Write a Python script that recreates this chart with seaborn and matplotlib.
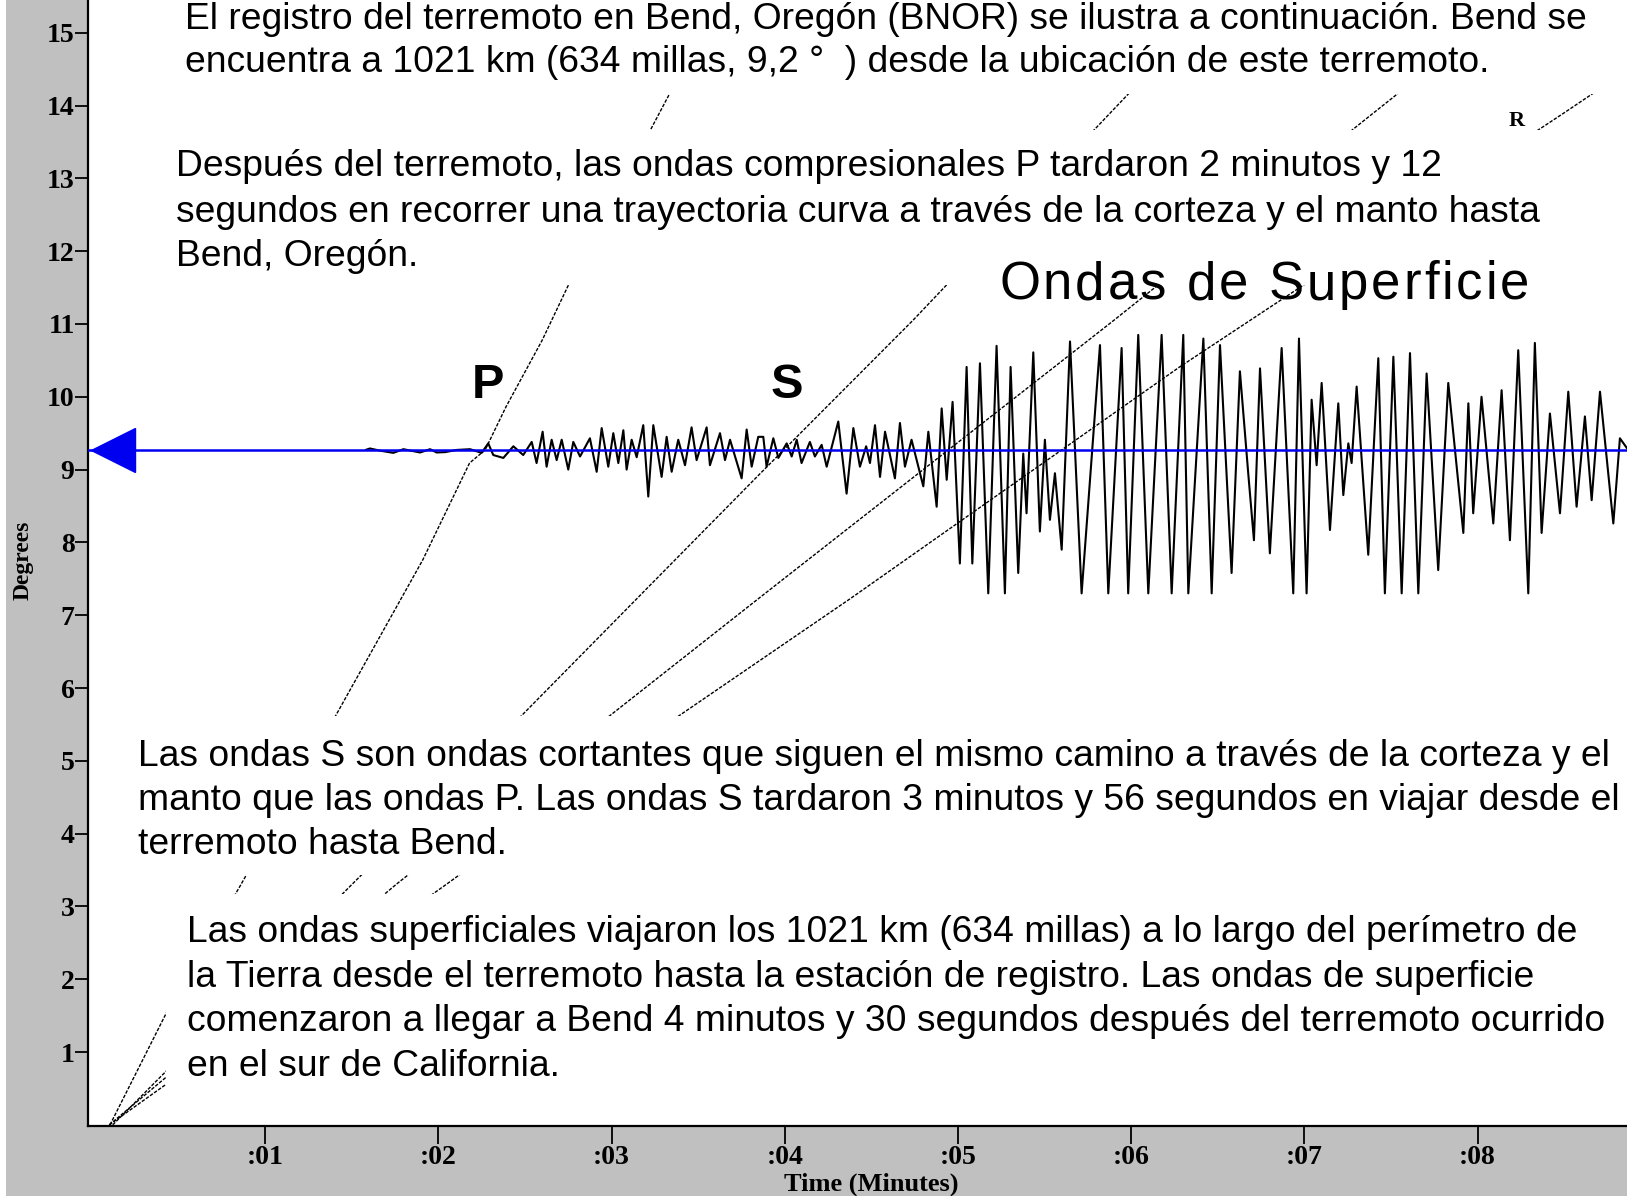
import matplotlib
matplotlib.use("Agg")
import matplotlib.pyplot as plt
import seaborn as sns
from matplotlib.patches import Rectangle
from matplotlib.font_manager import FontProperties, findfont
from matplotlib.ft2font import FT2Font

W, H, DPI = 1627, 1196, 100

# ------------------------------------------------------------
# datos
# ------------------------------------------------------------
station_deg = 9.27          # distancia de Bend (BNOR) en grados
station_mark_t = 0.121      # posicion del triangulo azul

# sismograma: tiempos (min) y amplitud relativa a la linea azul (grados)
trace_time = [
    1.580, 1.605, 1.663, 1.740, 1.798, 1.894, 1.952, 1.990, 2.039, 2.106, 2.183, 2.250,
    2.288, 2.317, 2.375, 2.433, 2.490, 2.539, 2.567, 2.602, 2.625, 2.654, 2.683, 2.712,
    2.750, 2.779, 2.818, 2.875, 2.914, 2.943, 2.981, 3.010, 3.039, 3.068, 3.087, 3.116,
    3.145, 3.183, 3.212, 3.241, 3.289, 3.318, 3.347, 3.385, 3.424, 3.462, 3.491, 3.549,
    3.568, 3.626, 3.655, 3.684, 3.751, 3.780, 3.809, 3.847,
    3.876, 3.895, 3.934, 3.963, 4.011, 4.040, 4.069, 4.097, 4.145, 4.174, 4.213, 4.242,
    4.309, 4.357, 4.396, 4.434, 4.470, 4.492, 4.521, 4.550, 4.579, 4.636, 4.665, 4.694,
    4.732, 4.800, 4.829, 4.877, 4.906, 4.935, 4.969, 5.011, 5.050, 5.083, 5.127, 5.175,
    5.223, 5.271, 5.304, 5.348, 5.377, 5.396, 5.435, 5.473, 5.502, 5.531, 5.560, 5.599,
    5.647, 5.714, 5.820, 5.868, 5.945, 5.983, 6.041, 6.099, 6.176, 6.234,
    6.301, 6.330, 6.417, 6.465, 6.513, 6.580, 6.628, 6.676, 6.709, 6.744, 6.801, 6.869,
    6.936, 6.969, 7.013, 7.042, 7.071, 7.100, 7.148, 7.196, 7.225, 7.254, 7.273, 7.302,
    7.369, 7.427, 7.465, 7.514, 7.562, 7.610, 7.658, 7.706, 7.773, 7.831, 7.918, 7.947,
    7.975, 8.023, 8.091, 8.139, 8.187, 8.235, 8.293, 8.331, 8.370, 8.418, 8.476, 8.524,
    8.572, 8.620, 8.659, 8.707, 8.784, 8.822, 8.870,
]
trace_amp = [
    0.00, 0.02, -0.01, -0.04, 0.01, -0.035, 0.01, -0.035, -0.03, 0.00, 0.01, -0.04,
    0.09, -0.07, -0.11, 0.05, -0.07, 0.11, -0.18, 0.25, -0.23, 0.14, -0.14, 0.14,
    -0.27, 0.11, -0.09, 0.16, -0.30, 0.30, -0.23, 0.23, -0.18, 0.27, -0.27, 0.14,
    -0.10, 0.34, -0.64, 0.34, -0.37, 0.18, -0.30, 0.14, -0.21, 0.31, -0.14, 0.31,
    -0.21, 0.23, -0.14, 0.14, -0.39, 0.28, -0.23, 0.18,
    0.18, -0.23, 0.16, -0.11, 0.09, -0.09, 0.14, -0.18, 0.11, -0.09, 0.07, -0.23,
    0.39, -0.60, 0.30, -0.23, 0.05, -0.18, 0.34, -0.37, 0.25, -0.39, 0.37, -0.23,
    0.14, -0.50, 0.25, -0.78, 0.57, -0.41, 0.66, -1.56, 1.14, -1.56, 1.19, -1.97,
    1.43, -1.97, 1.14, -1.69, -0.05, -0.87, 1.34, -1.12, 0.14, -0.96, -0.32, -1.37,
    1.49, -1.97, 1.44, -1.97, 1.40, -1.97, 1.58, -1.97, 1.58, -1.97,
    1.58, -1.97, 1.53, -1.97, 1.44, -1.69, 1.08, -0.32, -1.24, 1.12, -1.42, 1.40,
    -1.97, 1.53, -1.97, 0.69, -0.21, 0.92, -1.10, 0.64, -0.62, 0.09, -0.18, 0.87,
    -1.44, 1.26, -1.97, 1.28, -1.97, 1.33, -1.97, 1.05, -1.65, 0.92, -1.14, 0.64,
    -0.87, 0.73, -1.01, 0.82, -1.24, 1.37, -1.97, 1.47, -1.14, 0.50, -0.87, 0.80,
    -0.78, 0.46, -0.69, 0.80, -1.01, 0.16, 0.00,
]
assert len(trace_time) == len(trace_amp)

# curvas de tiempo de viaje (min, grados)
p_t = [0.104, 0.43, 0.86, 1.40, 1.91, 2.18, 2.27, 2.39, 2.60, 2.75, 3.33, 3.62]
p_d = [0.0, 1.54, 3.30, 5.59, 7.76, 9.09, 9.27, 9.86, 10.78, 11.53, 14.14, 15.45]
s_t = [0.12, 1.50, 2.48, 3.86, 4.74, 5.88, 6.50]
s_d = [0.0, 3.30, 5.62, 8.95, 11.05, 13.90, 15.45]
love_t = [0.10, 1.76, 2.99, 3.86, 5.90, 7.40, 8.22]
love_d = [0.0, 3.31, 5.62, 7.25, 11.05, 13.90, 15.45]
ray_t = [0.10, 2.05, 3.39, 4.38, 6.28, 8.50, 9.00]
ray_d = [0.0, 3.31, 5.62, 7.23, 10.41, 13.90, 14.70]

x_ticks = [1, 2, 3, 4, 5, 6, 7, 8]
x_tick_labels = [":01", ":02", ":03", ":04", ":05", ":06", ":07", ":08"]
y_ticks = list(range(1, 16))

par1 = ["El registro del terremoto en Bend, Oregón (BNOR) se ilustra a continuación. Bend se",
        "encuentra a 1021 km (634 millas, 9,2 °  ) desde la ubicación de este terremoto."]
par2 = ["Después del terremoto, las ondas compresionales P tardaron 2 minutos y 12",
        "segundos en recorrer una trayectoria curva a través de la corteza y el manto hasta",
        "Bend, Oregón."]
par3 = ["Las ondas S son ondas cortantes que siguen el mismo camino a través de la corteza y el",
        "manto que las ondas P. Las ondas S tardaron 3 minutos y 56 segundos en viajar desde el",
        "terremoto hasta Bend."]
par4 = ["Las ondas superficiales viajaron los 1021 km (634 millas) a lo largo del perímetro de",
        "la Tierra desde el terremoto hasta la estación de registro. Las ondas de superficie",
        "comenzaron a llegar a Bend 4 minutos y 30 segundos después del terremoto ocurrido",
        "en el sur de California."]

# ------------------------------------------------------------
# figura
# ------------------------------------------------------------
sns.set_style("white")
plt.rcParams['font.family'] = ['Liberation Sans', 'DejaVu Sans']
plt.rcParams['text.color'] = 'black'
SERIF = dict(family='Liberation Serif', weight='bold')

fig = plt.figure(figsize=(W / DPI, H / DPI), dpi=DPI, facecolor="#c0c0c0")
ax = fig.add_axes([88 / W, 1 - 1126 / H, 1 - 88 / W, 1126 / H])
ax.set_facecolor("white")

# curvas de tiempo de viaje (punteadas)
for tt, dd in [(p_t, p_d), (s_t, s_d), (love_t, love_d), (ray_t, ray_d)]:
    ax.plot(tt, dd, color="black", lw=1.0, ls=(0, (2.5, 1.1)), zorder=2)

# sismograma
sns.lineplot(x=trace_time, y=[station_deg + a for a in trace_amp], sort=False,
             estimator=None, color="black", lw=1.5, ax=ax, zorder=3)

# linea azul de la estacion + triangulo
ax.axhline(station_deg, color="#0000f0", lw=1.8, zorder=4)
ax.plot([station_mark_t], [station_deg], marker="<", ms=32, color="#0000f0",
        clip_on=False, zorder=5)

ax.set_xlim(-0.023, 8.863)
ax.set_ylim(-0.016, 15.45)
ax.set_xticks(x_ticks, labels=x_tick_labels, fontsize=20, color="black", **SERIF)
ax.set_yticks(y_ticks, labels=[str(v) for v in y_ticks], fontsize=20, color="black", **SERIF)
ax.tick_params(axis="y", direction="out", length=9.7, width=1.3, pad=0, colors="black", left=True)
ax.tick_params(axis="x", direction="out", length=13, width=1.3, pad=0.5, colors="black", bottom=True)
ax.set_xlabel("")
ax.set_ylabel("")
for side in ["top", "right"]:
    ax.spines[side].set_visible(False)
for side in ["left", "bottom"]:
    ax.spines[side].set_color("black")
    ax.spines[side].set_linewidth(1.6)


def px_box(x0, y0, x1, y1, color="white", z=5):
    fig.patches.append(Rectangle((x0 / W, 1 - y1 / H), (x1 - x0) / W, (y1 - y0) / H,
                                 transform=fig.transFigure, facecolor=color,
                                 edgecolor="none", zorder=z))


def put(x, y, s, **kw):
    kw.setdefault("zorder", 6)
    kw.setdefault("color", "black")
    return fig.text(x / W, 1 - y / H, s, **kw)


# fondos blancos de los textos (tapan las curvas)
px_box(0, 0, 6, H, z=-1)
px_box(175, 0, W, 94)
px_box(171, 130, 1560, 285)
px_box(133, 716, W, 875)
px_box(166, 894, 1619, 1100)

# parrafos
for lines, x, bases in [(par1, 185, [29, 72.5]),
                        (par2, 176, [176.5, 222, 266.5]),
                        (par3, 138, [765.5, 810.5, 854]),
                        (par4, 187, [942, 987, 1031, 1076])]:
    for s, b in zip(lines, bases):
        put(x, b, s, fontsize=26.8, va="baseline", ha="left")

put(487.7, 398, "P", fontsize=35, fontweight="bold", ha="center", va="baseline")
put(786.5, 398, "S", fontsize=35, fontweight="bold", ha="center", va="baseline")
put(1517, 121, "R", fontsize=16, ha="center", va="center", **SERIF)

# "Ondas de Superficie" con espaciado entre letras
title = "Ondas de Superficie"
fs_title = 38
ft = FT2Font(findfont(FontProperties(family="Liberation Sans")))
ft.set_size(fs_title, DPI)
xpos = 999.0
for ch in title:
    put(xpos, 299, ch, fontsize=fs_title, ha="left", va="baseline")
    adv = ft.load_char(ord(ch)).linearHoriAdvance / 65536.0
    xpos += adv + 2.9

# etiquetas de los ejes
put(22.8, 560, "Degrees", rotation=90, ha="center", va="center", fontsize=17, **SERIF)
put(871.6, 1184, "Time (Minutes)", ha="center", va="center", fontsize=19, **SERIF)

fig.savefig("out.png", dpi=DPI, facecolor=fig.get_facecolor())
